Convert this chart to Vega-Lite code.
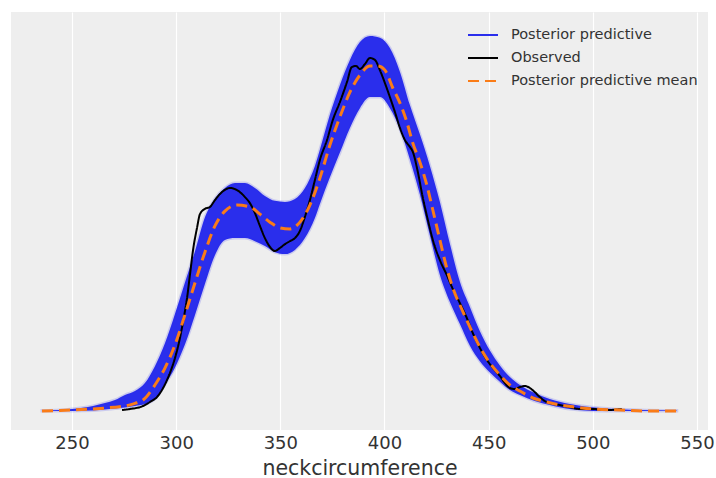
{
  "$schema": "https://vega.github.io/schema/vega-lite/v6.json",
  "autosize": {"type": "none"},
  "padding": {"left": 11, "top": 12, "right": 8, "bottom": 48},
  "width": 697,
  "height": 418,
  "background": "white",
  "config": {
    "font": "DejaVu Sans",
    "view": {"fill": "#eeeeee", "stroke": null}
  },
  "datasets": {
    "band": [
      {"series": "Posterior predictive", "x": 235.6, "hi": 0.0013, "lo": 0},
      {"series": "Posterior predictive", "x": 244.2, "hi": 0.0026, "lo": 0},
      {"series": "Posterior predictive", "x": 250.0, "hi": 0.0053, "lo": 0},
      {"series": "Posterior predictive", "x": 260.1, "hi": 0.0132, "lo": 0.0013},
      {"series": "Posterior predictive", "x": 265.8, "hi": 0.0211, "lo": 0.0039},
      {"series": "Posterior predictive", "x": 270.6, "hi": 0.0289, "lo": 0.0066},
      {"series": "Posterior predictive", "x": 275.4, "hi": 0.0421, "lo": 0.0092},
      {"series": "Posterior predictive", "x": 280.2, "hi": 0.0526, "lo": 0.0132},
      {"series": "Posterior predictive", "x": 285.0, "hi": 0.0737, "lo": 0.0184},
      {"series": "Posterior predictive", "x": 289.8, "hi": 0.118, "lo": 0.0316},
      {"series": "Posterior predictive", "x": 294.6, "hi": 0.178, "lo": 0.0700},
      {"series": "Posterior predictive", "x": 299.4, "hi": 0.255, "lo": 0.114},
      {"series": "Posterior predictive", "x": 304.2, "hi": 0.338, "lo": 0.175},
      {"series": "Posterior predictive", "x": 309.0, "hi": 0.420, "lo": 0.252},
      {"series": "Posterior predictive", "x": 313.8, "hi": 0.510, "lo": 0.334},
      {"series": "Posterior predictive", "x": 318.6, "hi": 0.558, "lo": 0.410},
      {"series": "Posterior predictive", "x": 323.4, "hi": 0.587, "lo": 0.450},
      {"series": "Posterior predictive", "x": 328.2, "hi": 0.600, "lo": 0.455},
      {"series": "Posterior predictive", "x": 333.0, "hi": 0.600, "lo": 0.455},
      {"series": "Posterior predictive", "x": 337.8, "hi": 0.587, "lo": 0.447},
      {"series": "Posterior predictive", "x": 342.6, "hi": 0.566, "lo": 0.434},
      {"series": "Posterior predictive", "x": 347.4, "hi": 0.553, "lo": 0.418},
      {"series": "Posterior predictive", "x": 352.2, "hi": 0.550, "lo": 0.413},
      {"series": "Posterior predictive", "x": 357.0, "hi": 0.558, "lo": 0.424},
      {"series": "Posterior predictive", "x": 361.8, "hi": 0.587, "lo": 0.455},
      {"series": "Posterior predictive", "x": 366.6, "hi": 0.645, "lo": 0.508},
      {"series": "Posterior predictive", "x": 369.0, "hi": 0.688, "lo": 0.545},
      {"series": "Posterior predictive", "x": 373.8, "hi": 0.780, "lo": 0.615},
      {"series": "Posterior predictive", "x": 378.6, "hi": 0.858, "lo": 0.680},
      {"series": "Posterior predictive", "x": 383.4, "hi": 0.924, "lo": 0.745},
      {"series": "Posterior predictive", "x": 388.2, "hi": 0.971, "lo": 0.797},
      {"series": "Posterior predictive", "x": 393.0, "hi": 0.987, "lo": 0.826},
      {"series": "Posterior predictive", "x": 397.8, "hi": 0.982, "lo": 0.826},
      {"series": "Posterior predictive", "x": 402.6, "hi": 0.955, "lo": 0.797},
      {"series": "Posterior predictive", "x": 407.4, "hi": 0.893, "lo": 0.742},
      {"series": "Posterior predictive", "x": 412.2, "hi": 0.805, "lo": 0.662},
      {"series": "Posterior predictive", "x": 417.0, "hi": 0.728, "lo": 0.570},
      {"series": "Posterior predictive", "x": 421.8, "hi": 0.645, "lo": 0.462},
      {"series": "Posterior predictive", "x": 426.6, "hi": 0.550, "lo": 0.358},
      {"series": "Posterior predictive", "x": 431.4, "hi": 0.440, "lo": 0.287},
      {"series": "Posterior predictive", "x": 436.2, "hi": 0.340, "lo": 0.229},
      {"series": "Posterior predictive", "x": 441.0, "hi": 0.274, "lo": 0.172},
      {"series": "Posterior predictive", "x": 445.8, "hi": 0.210, "lo": 0.131},
      {"series": "Posterior predictive", "x": 450.6, "hi": 0.159, "lo": 0.101},
      {"series": "Posterior predictive", "x": 455.4, "hi": 0.120, "lo": 0.077},
      {"series": "Posterior predictive", "x": 460.2, "hi": 0.0895, "lo": 0.0553},
      {"series": "Posterior predictive", "x": 465.0, "hi": 0.0684, "lo": 0.0421},
      {"series": "Posterior predictive", "x": 472.1, "hi": 0.0474, "lo": 0.0263},
      {"series": "Posterior predictive", "x": 479.3, "hi": 0.0316, "lo": 0.0158},
      {"series": "Posterior predictive", "x": 488.9, "hi": 0.0184, "lo": 0.0053},
      {"series": "Posterior predictive", "x": 503.3, "hi": 0.0079, "lo": 0},
      {"series": "Posterior predictive", "x": 522.5, "hi": 0.0026, "lo": 0},
      {"series": "Posterior predictive", "x": 540.3, "hi": 0.0013, "lo": 0}
    ],
    "observed": [
      {"series": "Observed", "x": 274.0, "y": 0.0026},
      {"series": "Observed", "x": 277.8, "y": 0.0053},
      {"series": "Observed", "x": 284.1, "y": 0.0132},
      {"series": "Observed", "x": 287.4, "y": 0.0237},
      {"series": "Observed", "x": 290.8, "y": 0.0368},
      {"series": "Observed", "x": 293.7, "y": 0.0605},
      {"series": "Observed", "x": 297.0, "y": 0.100},
      {"series": "Observed", "x": 299.4, "y": 0.139},
      {"series": "Observed", "x": 301.8, "y": 0.192},
      {"series": "Observed", "x": 303.7, "y": 0.247},
      {"series": "Observed", "x": 305.2, "y": 0.297},
      {"series": "Observed", "x": 306.6, "y": 0.358},
      {"series": "Observed", "x": 308.1, "y": 0.424},
      {"series": "Observed", "x": 310.0, "y": 0.482},
      {"series": "Observed", "x": 311.4, "y": 0.518},
      {"series": "Observed", "x": 313.8, "y": 0.532},
      {"series": "Observed", "x": 316.2, "y": 0.537},
      {"series": "Observed", "x": 318.6, "y": 0.555},
      {"series": "Observed", "x": 321.0, "y": 0.571},
      {"series": "Observed", "x": 323.4, "y": 0.582},
      {"series": "Observed", "x": 325.8, "y": 0.587},
      {"series": "Observed", "x": 328.2, "y": 0.584},
      {"series": "Observed", "x": 330.6, "y": 0.576},
      {"series": "Observed", "x": 333.0, "y": 0.563},
      {"series": "Observed", "x": 335.4, "y": 0.547},
      {"series": "Observed", "x": 337.8, "y": 0.521},
      {"series": "Observed", "x": 340.2, "y": 0.487},
      {"series": "Observed", "x": 342.6, "y": 0.455},
      {"series": "Observed", "x": 345.0, "y": 0.432},
      {"series": "Observed", "x": 347.4, "y": 0.421},
      {"series": "Observed", "x": 349.8, "y": 0.429},
      {"series": "Observed", "x": 352.2, "y": 0.439},
      {"series": "Observed", "x": 354.6, "y": 0.447},
      {"series": "Observed", "x": 357.0, "y": 0.455},
      {"series": "Observed", "x": 359.4, "y": 0.474},
      {"series": "Observed", "x": 361.8, "y": 0.511},
      {"series": "Observed", "x": 364.2, "y": 0.555},
      {"series": "Observed", "x": 366.6, "y": 0.608},
      {"series": "Observed", "x": 369.0, "y": 0.661},
      {"series": "Observed", "x": 372.4, "y": 0.713},
      {"series": "Observed", "x": 375.2, "y": 0.766},
      {"series": "Observed", "x": 378.6, "y": 0.813},
      {"series": "Observed", "x": 382.0, "y": 0.866},
      {"series": "Observed", "x": 384.3, "y": 0.905},
      {"series": "Observed", "x": 386.3, "y": 0.908},
      {"series": "Observed", "x": 388.2, "y": 0.900},
      {"series": "Observed", "x": 390.6, "y": 0.913},
      {"series": "Observed", "x": 393.0, "y": 0.929},
      {"series": "Observed", "x": 395.4, "y": 0.924},
      {"series": "Observed", "x": 397.8, "y": 0.897},
      {"series": "Observed", "x": 400.2, "y": 0.863},
      {"series": "Observed", "x": 402.6, "y": 0.826},
      {"series": "Observed", "x": 405.0, "y": 0.787},
      {"series": "Observed", "x": 407.4, "y": 0.745},
      {"series": "Observed", "x": 409.8, "y": 0.713},
      {"series": "Observed", "x": 412.2, "y": 0.695},
      {"series": "Observed", "x": 413.6, "y": 0.682},
      {"series": "Observed", "x": 416.0, "y": 0.629},
      {"series": "Observed", "x": 418.4, "y": 0.561},
      {"series": "Observed", "x": 420.8, "y": 0.503},
      {"series": "Observed", "x": 423.2, "y": 0.450},
      {"series": "Observed", "x": 426.6, "y": 0.397},
      {"series": "Observed", "x": 429.9, "y": 0.358},
      {"series": "Observed", "x": 432.8, "y": 0.321},
      {"series": "Observed", "x": 436.2, "y": 0.284},
      {"series": "Observed", "x": 439.5, "y": 0.245},
      {"series": "Observed", "x": 442.4, "y": 0.205},
      {"series": "Observed", "x": 445.8, "y": 0.166},
      {"series": "Observed", "x": 449.2, "y": 0.134},
      {"series": "Observed", "x": 452.1, "y": 0.113},
      {"series": "Observed", "x": 455.4, "y": 0.0921},
      {"series": "Observed", "x": 457.8, "y": 0.0737},
      {"series": "Observed", "x": 460.2, "y": 0.0605},
      {"series": "Observed", "x": 462.6, "y": 0.0579},
      {"series": "Observed", "x": 465.0, "y": 0.0632},
      {"series": "Observed", "x": 467.4, "y": 0.0658},
      {"series": "Observed", "x": 469.8, "y": 0.0605},
      {"series": "Observed", "x": 472.1, "y": 0.050},
      {"series": "Observed", "x": 474.5, "y": 0.0368},
      {"series": "Observed", "x": 476.9, "y": 0.0263},
      {"series": "Observed", "x": 479.3, "y": 0.0211},
      {"series": "Observed", "x": 484.1, "y": 0.0158},
      {"series": "Observed", "x": 488.9, "y": 0.0105},
      {"series": "Observed", "x": 493.7, "y": 0.0053},
      {"series": "Observed", "x": 500.0, "y": 0.0053},
      {"series": "Observed", "x": 506.7, "y": 0.0026},
      {"series": "Observed", "x": 513.9, "y": 0.0053}
    ],
    "mean": [
      {"series": "Posterior predictive mean", "x": 235.6, "y": 0},
      {"series": "Posterior predictive mean", "x": 244.2, "y": 0.0013},
      {"series": "Posterior predictive mean", "x": 250.0, "y": 0.0026},
      {"series": "Posterior predictive mean", "x": 260.1, "y": 0.0053},
      {"series": "Posterior predictive mean", "x": 270.2, "y": 0.010},
      {"series": "Posterior predictive mean", "x": 275.4, "y": 0.0132},
      {"series": "Posterior predictive mean", "x": 280.2, "y": 0.020},
      {"series": "Posterior predictive mean", "x": 284.1, "y": 0.0289},
      {"series": "Posterior predictive mean", "x": 289.8, "y": 0.0684},
      {"series": "Posterior predictive mean", "x": 294.6, "y": 0.113},
      {"series": "Posterior predictive mean", "x": 299.4, "y": 0.174},
      {"series": "Posterior predictive mean", "x": 304.2, "y": 0.253},
      {"series": "Posterior predictive mean", "x": 309.0, "y": 0.337},
      {"series": "Posterior predictive mean", "x": 313.8, "y": 0.418},
      {"series": "Posterior predictive mean", "x": 318.6, "y": 0.487},
      {"series": "Posterior predictive mean", "x": 323.4, "y": 0.526},
      {"series": "Posterior predictive mean", "x": 329.2, "y": 0.542},
      {"series": "Posterior predictive mean", "x": 335.4, "y": 0.537},
      {"series": "Posterior predictive mean", "x": 340.2, "y": 0.518},
      {"series": "Posterior predictive mean", "x": 345.0, "y": 0.497},
      {"series": "Posterior predictive mean", "x": 349.8, "y": 0.482},
      {"series": "Posterior predictive mean", "x": 354.6, "y": 0.479},
      {"series": "Posterior predictive mean", "x": 359.4, "y": 0.497},
      {"series": "Posterior predictive mean", "x": 364.2, "y": 0.542},
      {"series": "Posterior predictive mean", "x": 369.0, "y": 0.613},
      {"series": "Posterior predictive mean", "x": 373.8, "y": 0.700},
      {"series": "Posterior predictive mean", "x": 378.6, "y": 0.774},
      {"series": "Posterior predictive mean", "x": 383.4, "y": 0.839},
      {"series": "Posterior predictive mean", "x": 388.2, "y": 0.884},
      {"series": "Posterior predictive mean", "x": 393.0, "y": 0.908},
      {"series": "Posterior predictive mean", "x": 396.8, "y": 0.908},
      {"series": "Posterior predictive mean", "x": 400.2, "y": 0.897},
      {"series": "Posterior predictive mean", "x": 404.0, "y": 0.850},
      {"series": "Posterior predictive mean", "x": 407.4, "y": 0.811},
      {"series": "Posterior predictive mean", "x": 410.7, "y": 0.761},
      {"series": "Posterior predictive mean", "x": 413.6, "y": 0.705},
      {"series": "Posterior predictive mean", "x": 417.0, "y": 0.655},
      {"series": "Posterior predictive mean", "x": 420.3, "y": 0.595},
      {"series": "Posterior predictive mean", "x": 423.2, "y": 0.529},
      {"series": "Posterior predictive mean", "x": 426.6, "y": 0.450},
      {"series": "Posterior predictive mean", "x": 429.9, "y": 0.376},
      {"series": "Posterior predictive mean", "x": 432.8, "y": 0.324},
      {"series": "Posterior predictive mean", "x": 436.2, "y": 0.279},
      {"series": "Posterior predictive mean", "x": 439.5, "y": 0.239},
      {"series": "Posterior predictive mean", "x": 442.4, "y": 0.205},
      {"series": "Posterior predictive mean", "x": 445.8, "y": 0.168},
      {"series": "Posterior predictive mean", "x": 450.6, "y": 0.126},
      {"series": "Posterior predictive mean", "x": 455.4, "y": 0.0947},
      {"series": "Posterior predictive mean", "x": 460.2, "y": 0.0684},
      {"series": "Posterior predictive mean", "x": 465.0, "y": 0.0526},
      {"series": "Posterior predictive mean", "x": 471.2, "y": 0.0342},
      {"series": "Posterior predictive mean", "x": 477.9, "y": 0.0237},
      {"series": "Posterior predictive mean", "x": 484.1, "y": 0.0158},
      {"series": "Posterior predictive mean", "x": 491.3, "y": 0.0105},
      {"series": "Posterior predictive mean", "x": 500.0, "y": 0.0053},
      {"series": "Posterior predictive mean", "x": 512.9, "y": 0.0026},
      {"series": "Posterior predictive mean", "x": 527.3, "y": 0},
      {"series": "Posterior predictive mean", "x": 540.3, "y": 0}
    ]
  },
  "encoding": {
    "x": {
      "field": "x", "type": "quantitative",
      "scale": {"domain": [220.7, 555.3], "nice": false, "zero": false},
      "axis": {
        "title": "neckcircumference",
        "values": [250, 300, 350, 400, 450, 500, 550],
        "grid": true, "gridColor": "white", "gridWidth": 1.2,
        "domain": false, "ticks": false,
        "labelFontSize": 18, "labelColor": "#333333", "labelPadding": 4,
        "labelFont": "DejaVu Sans",
        "titleFontSize": 20.5, "titleFontWeight": "normal", "titleColor": "#333333",
        "titleFont": "DejaVu Sans", "titlePadding": 6
      }
    }
  },
  "layer": [
    {
      "data": {"name": "band"},
      "mark": {"type": "area", "stroke": "#2a2eec", "strokeWidth": 3, "strokeOpacity": 0.18, "fillOpacity": 1, "interpolate": "monotone"},
      "encoding": {
        "y": {"field": "hi", "type": "quantitative", "scale": {"domain": [-0.05, 1.05], "nice": false, "zero": false}, "axis": null},
        "y2": {"field": "lo"},
        "color": {
          "field": "series", "type": "nominal",
          "scale": {"domain": ["Posterior predictive", "Observed", "Posterior predictive mean"], "range": ["#2a2eec", "#000000", "#fa7c17"]},
          "legend": {
            "title": null, "orient": "none", "legendX": 456, "legendY": 7,
            "labelFontSize": 14.5, "labelColor": "#333333", "labelFont": "DejaVu Sans", "labelLimit": 0,
            "symbolType": "stroke", "symbolSize": 900, "symbolStrokeWidth": 2,
            "labelOffset": 12, "rowPadding": -4,
            "encode": {"symbols": {"update": {"stroke": {"scale": "color", "field": "value"}, "strokeDash": {"scale": "strokeDash", "field": "value"}, "fill": {"value": "transparent"}, "strokeWidth": {"value": 2}}}}
          }
        }
      }
    },
    {
      "data": {"name": "observed"},
      "mark": {"type": "line", "strokeWidth": 2, "interpolate": "monotone"},
      "encoding": {
        "y": {"field": "y", "type": "quantitative"},
        "color": {"field": "series", "type": "nominal"},
        "strokeDash": {
          "field": "series", "type": "nominal",
          "scale": {"domain": ["Posterior predictive", "Observed", "Posterior predictive mean"], "range": [[1, 0], [1, 0], [11, 6]]}
        }
      }
    },
    {
      "data": {"name": "mean"},
      "mark": {"type": "line", "strokeWidth": 3, "interpolate": "monotone"},
      "encoding": {
        "y": {"field": "y", "type": "quantitative"},
        "color": {"field": "series", "type": "nominal"},
        "strokeDash": {"field": "series", "type": "nominal"}
      }
    }
  ]
}
